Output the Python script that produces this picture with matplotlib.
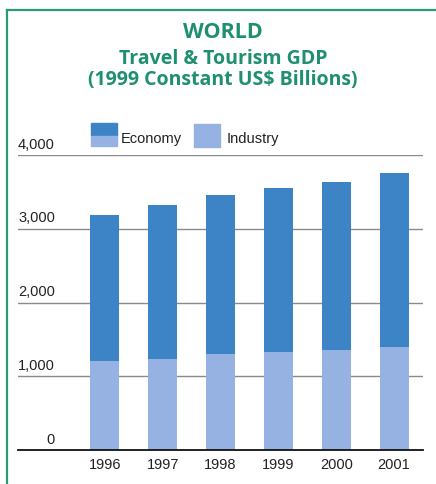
import numpy as np
import matplotlib
matplotlib.use("Agg")
import matplotlib.pyplot as plt
from matplotlib.patches import Rectangle
from matplotlib.lines import Line2D

# Travel & Tourism GDP, 1999 constant US$ billions
years = ["1996", "1997", "1998", "1999", "2000", "2001"]
economy = [3190, 3320, 3460, 3550, 3630, 3760]   # whole T&T economy
industry = [1205, 1240, 1300, 1335, 1360, 1395]  # T&T industry part

grid_values = [1000, 2000, 3000, 4000]
grid_labels = ["1,000", "2,000", "3,000", "4,000"]

dark_blue = "#3d84c6"
light_blue = "#96b2e2"
green = "#1e8f70"
tick_font = "Liberation Sans"

W, H = 436, 484
fig = plt.figure(figsize=(W / 100, H / 100), dpi=100)

def px(x, y):
    # pixel position (from top-left) -> figure fraction
    return x / W, 1 - y / H

# frame
fig.add_artist(Line2D([7 / W, 1.0], [1 - 10 / H] * 2, color="#2a9a7a", lw=1.6))
fig.add_artist(Line2D([7 / W] * 2, [0, 1 - 10 / H], color="#2a9a7a", lw=1.6))

# titles
fig.text(*px(223, 33), "WORLD", ha="center", va="center", color=green,
         fontsize=15.5, fontweight="bold", family="Open Sans")
fig.text(*px(223, 59), "Travel & Tourism GDP", ha="center", va="center",
         color=green, fontsize=14, fontweight="bold", family="Open Sans")
fig.text(*px(223, 80), "(1999 Constant US$ Billions)", ha="center", va="center",
         color=green, fontsize=14, fontweight="bold", family="Open Sans")

# plot area
left, right, top, bottom = 18, 423, 155, 450
ax = fig.add_axes([left / W, 1 - bottom / H, (right - left) / W, (bottom - top) / H])
x = np.arange(len(years))
ax.set_xlim(-1.5, 5.5)
ax.set_ylim(0, 4000)
for s in ax.spines.values():
    s.set_visible(False)
ax.set_yticks([])

lab_x = 0.091
for v, lab in zip(grid_values, grid_labels):
    ax.axhline(v, color="#8a8a8a", lw=1.0, zorder=1)
    ax.annotate(lab, (lab_x, v), xycoords=ax.get_yaxis_transform(),
                xytext=(0, 2.5), textcoords="offset points",
                ha="right", va="bottom", fontsize=10.5, family=tick_font, color="#222222")
ax.annotate("0", (lab_x, 0), xycoords=ax.get_yaxis_transform(),
            xytext=(0, 2.5), textcoords="offset points",
            ha="right", va="bottom", fontsize=10.5, family=tick_font, color="#222222")
ax.axhline(0, color="#111111", lw=1.3, zorder=3, clip_on=False)

ax.bar(x, economy, width=0.5, color=dark_blue, zorder=2)
ax.bar(x, industry, width=0.5, color=light_blue, zorder=2)

ax.set_xticks(x)
ax.set_xticklabels(years, fontsize=10.5, family=tick_font, color="#222222")
ax.tick_params(axis="x", length=0, pad=6)

# legend
fig.add_artist(Rectangle(px(91, 136), 26 / W, 13 / H, color=dark_blue))
fig.add_artist(Rectangle(px(91, 146), 26 / W, 10 / H, color=light_blue))
fig.text(*px(121, 139), "Economy", ha="left", va="center", fontsize=10.5,
         family=tick_font, color="#222222")
fig.add_artist(Rectangle(px(194, 147), 26 / W, 23 / H, color=light_blue))
fig.text(*px(227, 139), "Industry", ha="left", va="center", fontsize=10.5,
         family=tick_font, color="#222222")

fig.savefig("out.png", dpi=100)
